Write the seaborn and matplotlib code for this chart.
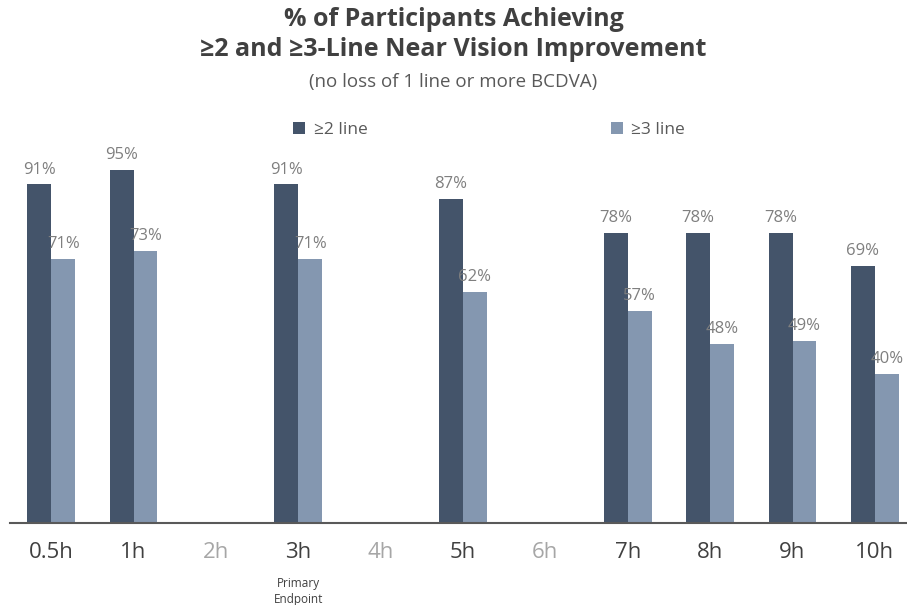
import numpy as np
import pandas as pd
import matplotlib.pyplot as plt
import seaborn as sns

# data
timepoints = ["0.5h", "1h", "2h", "3h", "4h", "5h", "6h", "7h", "8h", "9h", "10h"]
two_line = [91, 95, np.nan, 91, np.nan, 87, np.nan, 78, 78, 78, 69]
three_line = [71, 73, np.nan, 71, np.nan, 62, np.nan, 57, 48, 49, 40]
missing = ["2h", "4h", "6h"]

df = pd.DataFrame({
    "time": timepoints * 2,
    "value": two_line + three_line,
    "group": ["≥2 line"] * len(timepoints) + ["≥3 line"] * len(timepoints),
})

sns.set_style("white")
plt.rcParams["font.family"] = ["Open Sans", "DejaVu Sans"]

fig = plt.figure(figsize=(9.07, 6.05), dpi=100)
ax = fig.add_axes([10 / 907, 82 / 605, 1 - 10 / 907, 372 / 605])

sns.barplot(data=df, x="time", y="value", hue="group", order=timepoints,
            palette=["#44546A", "#8497B0"], width=0.58, saturation=1,
            linewidth=0, edgecolor="none", ax=ax, legend=True)

for c in ax.containers:
    ax.bar_label(c, labels=[f"{v:.0f}%" for v in c.datavalues], padding=5,
                 fontsize=12, color="#7f7f7f")

ax.set_ylim(0, 100)
ax.set_xlim(-0.5, 10.39)
ax.set_yticks([])
ax.set_xlabel("")
ax.set_ylabel("")
for s in ["left", "right", "top"]:
    ax.spines[s].set_visible(False)
ax.spines["bottom"].set_color("#595959")
ax.spines["bottom"].set_linewidth(1.5)
ax.tick_params(axis="x", length=0, pad=14, labelsize=16)
for lbl in ax.get_xticklabels():
    lbl.set_color("#a6a6a6" if lbl.get_text() in missing else "#404040")

ax.text(3, -0.145, "Primary\nEndpoint", transform=ax.get_xaxis_transform(),
        ha="center", va="top", fontsize=8.5, color="#404040", linespacing=1.3)

leg = ax.legend(loc="upper left", bbox_to_anchor=(0.298, 1.12), ncol=2, frameon=False,
                fontsize=12.5, handlelength=0.7, handleheight=0.7, handletextpad=0.5,
                columnspacing=14)
for t in leg.get_texts():
    t.set_color("#595959")

fig.text(0.5, 1 - 20 / 605, "% of Participants Achieving", ha="center", va="center",
         fontsize=18, fontweight="bold", color="#404040")
fig.text(0.5, 1 - 50 / 605, "≥2 and ≥3-Line Near Vision Improvement", ha="center",
         va="center", fontsize=18, fontweight="bold", color="#404040")
fig.text(0.5, 1 - 82 / 605, "(no loss of 1 line or more BCDVA)", ha="center",
         va="center", fontsize=13.5, color="#595959")

fig.savefig("out.png", dpi=100)
